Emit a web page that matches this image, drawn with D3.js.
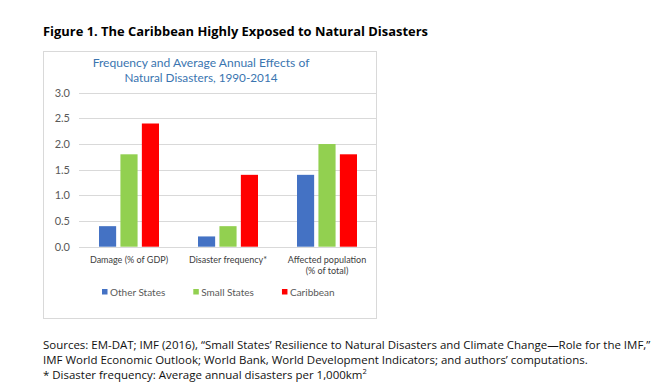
<!DOCTYPE html>
<html lang="en">
<head>
<meta charset="UTF-8">
<script src="https://cdn.jsdelivr.net/npm/d3@7"></script>
<title>Figure 1</title>
<style>
  body { margin: 0; background: #fff; }
  text { font-family: "Open Sans", "Noto Sans", sans-serif; }
  .chart text { font-family: Lato, "Open Sans", sans-serif; }
</style>
</head>
<body>
<div id="chart"></div>
<script>
// data
var categories = ['Damage (% of GDP)', 'Disaster frequency*', 'Affected population (% of total)'];
var categoryLines = [['Damage (% of GDP)'], ['Disaster frequency*'], ['Affected population', '(% of total)']];
var seriesNames = ['Other States', 'Small States', 'Caribbean'];
var otherStates = [0.4, 0.2, 1.4];
var smallStates = [1.8, 0.4, 2.0];
var caribbean = [2.4, 1.4, 1.8];
var yTicks = [0, 0.5, 1, 1.5, 2, 2.5, 3];
var colors = ['#4472C4', '#92D050', '#FF0000'];

var figTitle = 'Figure 1. The Caribbean Highly Exposed to Natural Disasters';
var chartTitle = ['Frequency and Average Annual Effects of', 'Natural Disasters, 1990-2014'];

var width = 671, height = 391;
var svg = d3.select('#chart').append('svg')
    .attr('width', width).attr('height', height);

svg.append('rect').attr('width', width).attr('height', height).attr('fill', '#fff');

// scale a text's font size so it spans a given width
function fitWidth(sel, target) {
    var node = sel.node();
    var size = parseFloat(sel.attr('font-size'));
    var w = node.getComputedTextLength();
    sel.attr('font-size', (size * target / w).toFixed(2));
    return size * target / w;
}

var ft = svg.append('text')
    .attr('x', 43).attr('y', 36)
    .attr('font-size', 13).attr('font-weight', 'bold')
    .attr('fill', '#000')
    .text(figTitle);
fitWidth(ft, 385);

// chart frame
var g = svg.append('g').attr('class', 'chart');
g.append('rect')
    .attr('x', 43.5).attr('y', 51.5)
    .attr('width', 333).attr('height', 267)
    .attr('fill', 'none').attr('stroke', '#d9d9d9');

var titleWidths = [217, 153];
chartTitle.forEach(function(t, i) {
    var tt = g.append('text')
        .attr('x', 201).attr('y', 67 + i * 15)
        .attr('text-anchor', 'middle')
        .attr('font-size', 13)
        .attr('fill', '#3A75B0')
        .text(t);
    fitWidth(tt, titleWidths[i]);
});

var y = d3.scaleLinear().domain([0, 3]).range([246.7, 92.7]);
var x0 = d3.scaleBand().domain(categories).range([79.5, 376.5]).paddingInner(0).paddingOuter(0);
var x1 = d3.scaleBand().domain(seriesNames)
    .range([19.5, x0.bandwidth() - 19.5]).paddingInner(0.2).paddingOuter(0);

// gridlines
g.selectAll('.grid').data(yTicks).enter().append('line')
    .attr('x1', 79).attr('x2', 376)
    .attr('y1', function(d) { return Math.round(y(d)) + 0.5; })
    .attr('y2', function(d) { return Math.round(y(d)) + 0.5; })
    .attr('stroke', '#d9d9d9');

var yAxis = d3.axisLeft(y).tickValues(yTicks).tickFormat(d3.format('.1f')).tickSize(0).tickPadding(9);
var ya = g.append('g').attr('transform', 'translate(79,0)').call(yAxis);
ya.select('.domain').remove();
ya.selectAll('text')
    .attr('font-family', 'Lato, "Open Sans", sans-serif')
    .attr('font-size', 11).attr('fill', '#595959');

// bars
var seriesVals = [otherStates, smallStates, caribbean];
seriesNames.forEach(function(s, si) {
    g.selectAll('.bar' + si).data(seriesVals[si]).enter().append('rect')
        .attr('x', function(d, i) { return x0(categories[i]) + x1(s); })
        .attr('y', function(d) { return y(d); })
        .attr('width', x1.bandwidth())
        .attr('height', function(d) { return y(0) - y(d); })
        .attr('fill', colors[si]);
});

// category labels
categories.forEach(function(c, i) {
    categoryLines[i].forEach(function(line, li) {
        g.append('text')
            .attr('x', x0(c) + x0.bandwidth() / 2)
            .attr('y', 263 + li * 11)
            .attr('text-anchor', 'middle')
            .attr('font-size', 9)
            .attr('fill', '#404040')
            .text(line);
    });
});

// legend
var lx = 102;
seriesNames.forEach(function(s, i) {
    g.append('rect').attr('x', lx).attr('y', 289)
        .attr('width', 5.5).attr('height', 5.5).attr('fill', colors[i]);
    var lt = g.append('text').attr('x', lx + 8).attr('y', 295.5)
        .attr('font-size', 10).attr('fill', '#595959').text(s);
    lx += 8 + lt.node().getComputedTextLength() + 28;
});

// sources
var n1 = svg.append('text').attr('x', 43).attr('y', 349)
    .attr('font-size', 12).attr('fill', '#111')
    .text('Sources: EM-DAT; IMF (2016), \u201cSmall States\u2019 Resilience to Natural Disasters and Climate Change\u2014Role for the IMF,\u201d');
var fs = fitWidth(n1, 608);
svg.append('text').attr('x', 43).attr('y', 364)
    .attr('font-size', fs).attr('fill', '#111')
    .text('IMF World Economic Outlook; World Bank, World Development Indicators; and authors\u2019 computations.');
var n3 = svg.append('text').attr('x', 43).attr('y', 379)
    .attr('font-size', fs).attr('fill', '#111')
    .text('* Disaster frequency: Average annual disasters per 1,000km');
n3.append('tspan').attr('dy', -5).attr('font-size', fs * 0.65).text('2');
</script>
</body>
</html>
